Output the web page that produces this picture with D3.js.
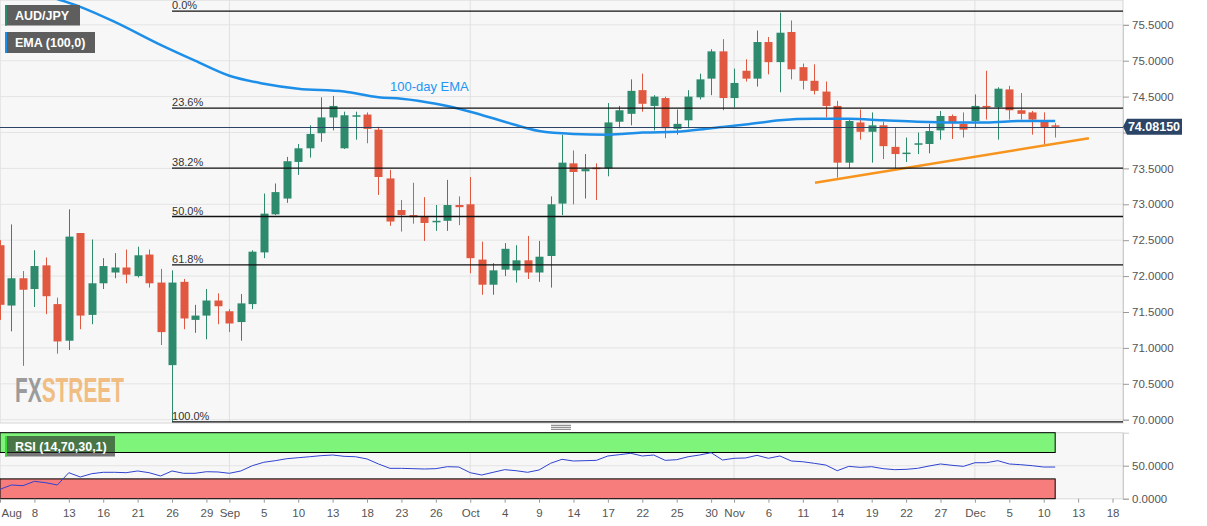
<!DOCTYPE html>
<html>
<head>
<meta charset="UTF-8">
<title>AUD/JPY</title>
<script src="https://cdn.jsdelivr.net/npm/d3@7"></script>
<style>
body { margin: 0; background: #fff; }
text { font-family: "Liberation Sans", Arial, sans-serif; }
</style>
</head>
<body>
<script>
// daily candles, Aug 5 .. Dec 11 (trading days)
var opens = [72.43,71.59,71.97,71.82,72.15,71.61,71.10,72.60,71.46,71.90,
    72.05,72.12,72.00,72.30,71.91,70.76,71.92,71.39,71.45,71.66,
    71.51,71.36,71.61,72.33,72.86,73.08,73.59,73.78,73.99,74.21,
    73.78,74.22,74.25,74.04,73.36,72.92,72.85,72.83,72.75,72.77,
    72.99,73.00,72.23,71.88,72.09,72.08,72.22,72.05,72.28,73.01,
    73.57,73.46,73.51,73.50,74.15,74.26,74.59,74.37,74.48,74.05,
    74.17,74.49,74.75,75.13,74.48,74.86,74.75,75.26,74.98,75.40,
    74.91,74.72,74.57,74.37,73.58,74.14,74.01,74.10,73.80,73.70,
    73.83,73.84,74.03,74.23,74.12,74.16,74.37,74.35,74.60,74.31,
    74.28,74.17,74.10];
var highs = [72.50,72.72,72.07,72.36,72.26,71.70,72.93,72.60,72.51,72.25,
    72.32,72.37,72.41,72.37,72.10,72.08,71.96,71.60,71.82,71.76,
    71.54,71.75,72.36,73.15,73.29,73.66,73.84,74.10,74.49,74.51,
    74.29,74.29,74.28,74.08,73.48,73.06,73.30,73.10,72.99,73.34,
    73.11,73.38,72.48,72.18,72.46,72.43,72.56,72.49,73.11,73.97,
    73.75,73.70,73.57,74.41,74.37,74.74,74.82,74.52,74.50,74.32,
    74.59,74.82,75.16,75.30,74.89,75.02,75.42,75.33,75.67,75.56,
    74.96,74.95,74.71,74.44,74.20,74.32,74.28,74.15,74.06,73.93,
    74.00,74.12,74.30,74.25,74.28,74.53,74.86,74.63,74.65,74.55,
    74.30,74.28,74.13];
var lows = [71.39,71.23,70.75,71.57,71.47,70.92,70.97,71.26,71.33,71.82,
    71.97,71.90,71.98,71.84,71.04,69.97,71.26,71.21,71.12,71.33,
    71.22,71.10,71.54,72.25,72.85,73.02,73.41,73.65,73.87,74.03,
    73.77,73.90,73.85,73.13,72.70,72.62,72.73,72.49,72.63,72.63,
    72.71,72.04,71.74,71.74,72.00,71.91,71.96,71.92,71.84,72.85,
    73.00,73.08,73.06,73.39,74.06,74.10,74.29,74.03,73.92,73.97,
    74.06,74.46,74.52,74.31,74.35,74.71,74.64,74.81,74.56,74.74,
    74.60,74.53,74.21,73.37,73.50,73.90,73.58,73.63,73.50,73.59,
    73.70,73.71,73.90,73.91,73.93,74.06,74.18,73.90,74.18,74.18,
    73.97,73.84,73.93];
var closes = [71.60,71.97,71.81,72.14,71.72,71.09,72.55,71.45,71.90,72.14,
    72.12,72.02,72.29,71.90,71.22,71.91,71.41,71.45,71.66,71.58,
    71.34,71.62,72.34,72.87,73.17,73.60,73.78,73.98,74.21,74.37,
    74.24,74.24,74.05,73.38,72.76,72.85,72.82,72.74,72.77,72.99,
    72.96,72.25,71.88,72.08,72.38,72.22,72.05,72.27,73.00,73.58,
    73.45,73.49,73.49,74.14,74.31,74.58,74.40,74.50,74.06,74.12,
    74.50,74.74,75.13,74.48,74.69,74.75,75.26,74.98,75.39,74.88,
    74.72,74.58,74.37,73.58,74.16,74.01,74.10,73.81,73.70,73.72,
    73.85,74.02,74.23,74.13,74.04,74.37,74.35,74.61,74.31,74.26,
    74.18,74.07,74.0815];

// 100-day EMA (candle index, value)
var emaIdx = [0,5,7,10,14,17,20,23,26,30,33,35,38,41,44,47,50,53,56,59,62,65,68,71,74,77,80,83,86,89,92];
var emaVals = [76.12,75.86,75.75,75.54,75.22,75.00,74.79,74.68,74.61,74.57,74.49,74.47,74.40,74.29,74.15,74.02,
    73.98,73.97,74.00,74.01,74.06,74.11,74.17,74.19,74.19,74.17,74.15,74.14,74.14,74.16,74.16];

var rsiVals = [14.2,20.8,19.7,26.3,24.2,20.8,39.4,32.9,37.9,40,
    40,39.4,42,39.4,34.4,42,38.5,38.5,40.9,40.5,
    38.5,42,50,55.2,57.6,60.6,62.1,63.6,65.2,66.2,
    64.2,63.6,60.2,52.6,46,46,45.5,45,45.5,48.5,
    48,39.4,35.9,40,44,42.4,40,43.5,53.6,59.7,
    57.1,57.6,58.1,64.7,66.7,68.8,64.7,66.2,58.1,59.1,
    63.6,66.2,69.7,58.6,61.2,61.7,65.7,61.2,64.7,57.1,
    56,53.6,51,42.4,49,47.5,48.5,45.5,44,44.5,
    46,49.5,52.6,50.6,49,54.5,54.5,57.6,52.6,51.5,
    50,48,48];

var fibLevels = [0, 0.236, 0.382, 0.5, 0.618, 1];
var fibLabels = ["0.0%", "23.6%", "38.2%", "50.0%", "61.8%", "100.0%"];
var fibHigh = 75.69, fibLow = 69.97, fibStart = 15;

var trendIdx = [71.06, 94.94];
var trendVals = [73.30, 73.92];

var lastPrice = 74.0815;
var priceTicks = [70, 70.5, 71, 71.5, 72, 72.5, 73, 73.5, 74, 74.5, 75, 75.5];
var rsiTicks = [0, 50];
var rsiUpper = 70, rsiLower = 30;

var tickIdx = [0,3,6,9,12,15,18,20,23,26,29,32,35,38,41,44,47,50,53,56,59,62,64,67,70,73,76,79,82,85,88,91,94,97];
var tickLabels = ["Aug","8","13","16","21","26","29","Sep","5","10","13","18","23","26","Oct","4","9","14","17","22","25","30","Nov","6","11","14","19","22","27","Dec","5","10","13","18"];
var monthIdx = [20, 41, 64, 85];

var W = 1207, H = 526;
var plotR = 1123, mainTop = 0, mainBot = 423, rsiTop = 432.7, rsiBot = 498.7;
var green = "#2e8a6d", red = "#e0583f";
var svg, defs, x, y, ry;

function create_svg(){
    svg = d3.select("body").append("svg")
        .attr("width", W).attr("height", H);
    svg.append("rect").attr("width", W).attr("height", H).attr("fill", "#fff");
    x = d3.scaleLinear().domain([0, 98]).range([0, 1124]);
    y = d3.scaleLinear().domain([70, 75.5]).range([419.7, 24.8]);
    ry = d3.scaleLinear().domain([0, 100]).range([rsiBot, rsiTop]);
    defs = svg.append("defs");
    defs.append("clipPath").attr("id", "mainclip").append("rect")
        .attr("x", 0).attr("y", mainTop).attr("width", plotR).attr("height", mainBot - mainTop);
}

function draw_main(){
    svg.append("rect").attr("x", 0).attr("y", mainTop).attr("width", plotR).attr("height", mainBot - mainTop)
       .attr("fill", "#f7f7f7").attr("stroke", "#d6d6d6");
    var g = svg.append("g").attr("clip-path", "url(#mainclip)");

    // grid
    g.selectAll("line.hgrid").data(priceTicks).enter().append("line")
       .attr("x1", 0).attr("x2", plotR)
       .attr("y1", function(d){ return y(d); }).attr("y2", function(d){ return y(d); })
       .attr("stroke", "#e4e4e4");
    g.selectAll("line.vgrid").data(monthIdx).enter().append("line")
       .attr("x1", function(d){ return x(d); }).attr("x2", function(d){ return x(d); })
       .attr("y1", mainTop).attr("y2", mainBot)
       .attr("stroke", "#e0e0e0");

    // candles
    var idx = d3.range(opens.length);
    var col = function(i){ return closes[i] >= opens[i] ? green : red; };
    g.selectAll("line.wick").data(idx).enter().append("line")
       .attr("x1", function(i){ return Math.round(x(i)) + 0.5; })
       .attr("x2", function(i){ return Math.round(x(i)) + 0.5; })
       .attr("y1", function(i){ return y(highs[i]); })
       .attr("y2", function(i){ return y(lows[i]); })
       .attr("stroke", col);
    g.selectAll("rect.body").data(idx).enter().append("rect")
       .attr("x", function(i){ return Math.round(x(i)) - 3.5; })
       .attr("width", 8)
       .attr("y", function(i){ return y(Math.max(opens[i], closes[i])); })
       .attr("height", function(i){ return Math.max(1.5, Math.abs(y(opens[i]) - y(closes[i]))); })
       .attr("fill", col);

    // fibonacci
    var fib = fibLevels.map(function(l, k){ return {v: fibHigh - (fibHigh - fibLow) * l, t: fibLabels[k]}; });
    svg.selectAll("line.fib").data(fib).enter().append("line")
       .attr("x1", x(fibStart)).attr("x2", plotR)
       .attr("y1", function(d){ return y(d.v); }).attr("y2", function(d){ return y(d.v); })
       .attr("stroke", "#111").attr("stroke-width", 1.3);
    svg.selectAll("text.fib").data(fib).enter().append("text")
       .attr("x", x(fibStart)).attr("y", function(d){ return y(d.v) - 2; })
       .attr("font-size", 11).attr("fill", "#333")
       .text(function(d){ return d.t; });

    // EMA
    var line = d3.line()
        .x(function(d, k){ return x(emaIdx[k]); })
        .y(function(d){ return y(d); })
        .curve(d3.curveMonotoneX);
    g.append("path").attr("d", line(emaVals))
       .attr("fill", "none").attr("stroke", "#1e8fe8").attr("stroke-width", 2.5);
    svg.append("text").attr("x", 390).attr("y", 91).attr("font-size", 13)
       .attr("fill", "#2196f3").text("100-day EMA");

    // trend line
    g.append("line")
       .attr("x1", x(trendIdx[0])).attr("y1", y(trendVals[0]))
       .attr("x2", x(trendIdx[1])).attr("y2", y(trendVals[1]))
       .attr("stroke", "#f7941d").attr("stroke-width", 2.5);

    // last price
    svg.append("line").attr("x1", 0).attr("x2", plotR)
       .attr("y1", Math.round(y(lastPrice)) + 0.5).attr("y2", Math.round(y(lastPrice)) + 0.5)
       .attr("stroke", "#2c4566").attr("stroke-width", 1);
}

function draw_rsi(){
    svg.append("rect").attr("x", 0).attr("y", rsiTop).attr("width", plotR).attr("height", rsiBot - rsiTop)
       .attr("fill", "#f7f7f7").attr("stroke", "#d6d6d6");
    svg.selectAll("line.rgrid").data(rsiTicks).enter().append("line")
       .attr("x1", 0).attr("x2", plotR)
       .attr("y1", function(d){ return ry(d); }).attr("y2", function(d){ return ry(d); })
       .attr("stroke", "#e4e4e4");
    svg.selectAll("line.rvgrid").data(monthIdx).enter().append("line")
       .attr("x1", function(d){ return x(d); }).attr("x2", function(d){ return x(d); })
       .attr("y1", rsiTop).attr("y2", rsiBot)
       .attr("stroke", "#e0e0e0");
    var last = x(rsiVals.length - 1);
    svg.append("rect").attr("x", 0).attr("y", ry(100)).attr("width", last).attr("height", ry(rsiUpper) - ry(100))
       .attr("fill", "#7ef57a").attr("stroke", "#000");
    svg.append("rect").attr("x", 0).attr("y", ry(rsiLower)).attr("width", last).attr("height", ry(0) - ry(rsiLower))
       .attr("fill", "#f77c7c").attr("stroke", "#000");
    var line = d3.line()
        .x(function(d, i){ return x(i); })
        .y(function(d){ return ry(d); });
    svg.append("path").attr("d", line(rsiVals))
       .attr("fill", "none").attr("stroke", "#2f43d0").attr("stroke-width", 1);

    // splitter handle
    svg.selectAll("line.handle").data([425.3, 427.3, 429.3]).enter().append("line")
       .attr("x1", 551).attr("x2", 571)
       .attr("y1", function(d){ return d; }).attr("y2", function(d){ return d; })
       .attr("stroke", "#777");
}

function draw_axes(){
    var ay = svg.append("g").attr("transform", "translate(" + plotR + ",0)")
        .call(d3.axisRight(y).tickValues(priceTicks).tickFormat(d3.format(".4f")).tickSize(6).tickPadding(3));
    var ar = svg.append("g").attr("transform", "translate(" + plotR + ",0)")
        .call(d3.axisRight(ry).tickValues(rsiTicks).tickFormat(d3.format(".4f")).tickSize(6).tickPadding(3));
    var ax = svg.append("g").attr("transform", "translate(0," + rsiBot + ")")
        .call(d3.axisBottom(x).tickValues(tickIdx).tickFormat(function(d, i){ return tickLabels[i]; }).tickSize(4).tickPadding(6));
    [ay, ar, ax].forEach(function(a){
        a.select(".domain").attr("stroke", "#ccc");
        a.selectAll(".tick line").attr("stroke", "#999");
        a.selectAll(".tick text").attr("fill", "#555").attr("font-size", 11.5)
         .attr("font-family", "'Liberation Sans', Arial, sans-serif");
    });
    ax.select(".domain").remove();
    ax.selectAll(".tick text").filter(function(d, i){ return i == 0; }).attr("text-anchor", "start").attr("x", 1);
    // the price tag covers this label
    ay.selectAll(".tick text").filter(function(d){ return Math.abs(y(d) - y(lastPrice)) < 12; }).remove();

    // last price tag
    var py = y(lastPrice);
    svg.append("path")
       .attr("d", "M" + plotR + "," + py + " L1127," + (py - 8) + " L1182," + (py - 8) + " L1182," + (py + 8) + " L1127," + (py + 8) + " Z")
       .attr("fill", "#2c4566");
    svg.append("text").attr("x", 1154).attr("y", py + 4.5).attr("text-anchor", "middle")
       .attr("font-size", 12.5).attr("font-weight", "bold").attr("fill", "#fff")
       .text(lastPrice.toFixed(5));
}

function draw_legend(){
    var items = [
        {t: "AUD/JPY", x: 5, y: 5, w: 75, h: 20.5, c: green, bg: "#5e5e5e"},
        {t: "EMA (100,0)", x: 5, y: 32, w: 90, h: 21, c: "#1e8fe8", bg: "#5e5e5e"},
        {t: "RSI (14,70,30,1)", x: 5, y: 436, w: 110, h: 20.5, c: "#3bd63b", bg: "rgba(40,40,40,0.62)"}
    ];
    var g = svg.selectAll("g.leg").data(items).enter().append("g");
    g.append("rect").attr("x", function(d){ return d.x; }).attr("y", function(d){ return d.y; })
     .attr("width", function(d){ return d.w; }).attr("height", function(d){ return d.h; })
     .attr("fill", function(d){ return d.bg; });
    g.append("rect").attr("x", function(d){ return d.x; }).attr("y", function(d){ return d.y; })
     .attr("width", 2).attr("height", function(d){ return d.h; })
     .attr("fill", function(d){ return d.c; });
    g.append("text").attr("x", function(d){ return d.x + 10; }).attr("y", function(d){ return d.y + d.h / 2 + 4.5; })
     .attr("font-size", 12.5).attr("font-weight", "bold").attr("fill", "#fff")
     .text(function(d){ return d.t; });

    // FXStreet logo: one text, two colours via a hard-stop gradient
    var grad = defs.append("linearGradient").attr("id", "logofill")
        .attr("gradientUnits", "userSpaceOnUse").attr("x1", 15).attr("x2", 124).attr("y1", 0).attr("y2", 0);
    grad.append("stop").attr("offset", 0).attr("stop-color", "#8c8c8c");
    grad.append("stop").attr("offset", 0.245).attr("stop-color", "#8c8c8c");
    grad.append("stop").attr("offset", 0.245).attr("stop-color", "#efb36e");
    grad.append("stop").attr("offset", 1).attr("stop-color", "#efb36e");
    svg.append("text").attr("x", 15).attr("y", 402)
       .attr("font-size", 35).attr("font-weight", "bold")
       .attr("font-family", "'Liberation Sans Narrow', 'DejaVu Sans Condensed', sans-serif")
       .attr("textLength", 109).attr("lengthAdjust", "spacingAndGlyphs")
       .attr("opacity", 0.85).attr("fill", "url(#logofill)")
       .text("FXSTREET");
}

window.onload = function(){
    create_svg();
    draw_main();
    draw_rsi();
    draw_axes();
    draw_legend();
};
</script>
</body>
</html>
